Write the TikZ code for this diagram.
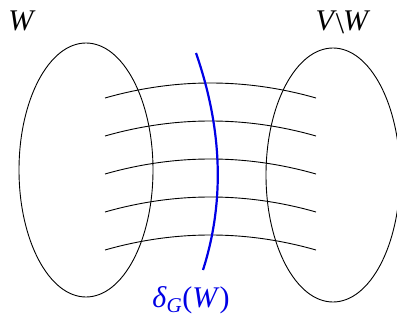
\documentclass[tikz,border=0pt]{standalone}
\usepackage{fontspec}
\setmainfont{Liberation Serif}
\begin{document}
\begin{tikzpicture}[x=1pt,y=-1pt,
  setline/.style={black,line width=0.9pt},
  edgeline/.style={black,line width=0.9pt},
  cutline/.style={blue!90!black,line width=2.2pt},
  lbl/.style={inner sep=0pt,font=\fontsize{30}{33}\selectfont}]
\useasboundingbox (0,0) rectangle (397,324);
\draw[setline] (86,170) ellipse [x radius=67, y radius=127];
\draw[setline] (333,175) ellipse [x radius=67, y radius=127];
\foreach \i/\y in {1/98,2/136,3/174,4/212,5/250}{
  \coordinate (l\i) at (105,\y);
  \coordinate (r\i) at (316,\y);
  \draw[edgeline] (l\i) .. controls (175,\y-20) and (246,\y-20) .. (r\i);
}
\coordinate (ct) at (196,53);
\coordinate (cb) at (203,270);
\draw[cutline] (ct) .. controls (221,125) and (226,198) .. (cb);
\node[lbl] (w) at (22,21) {\textit{W}};
\node[lbl] (vw) at (343,22) {\textit{V}\kern-1pt\raisebox{-3pt}{\textbackslash}\kern-1pt\textit{W}};
\node[lbl,text=blue!90!black] (d) at (191,300) {\textit{δ}\textsubscript{\textit{G}}(\textit{W})};
\end{tikzpicture}
\end{document}
